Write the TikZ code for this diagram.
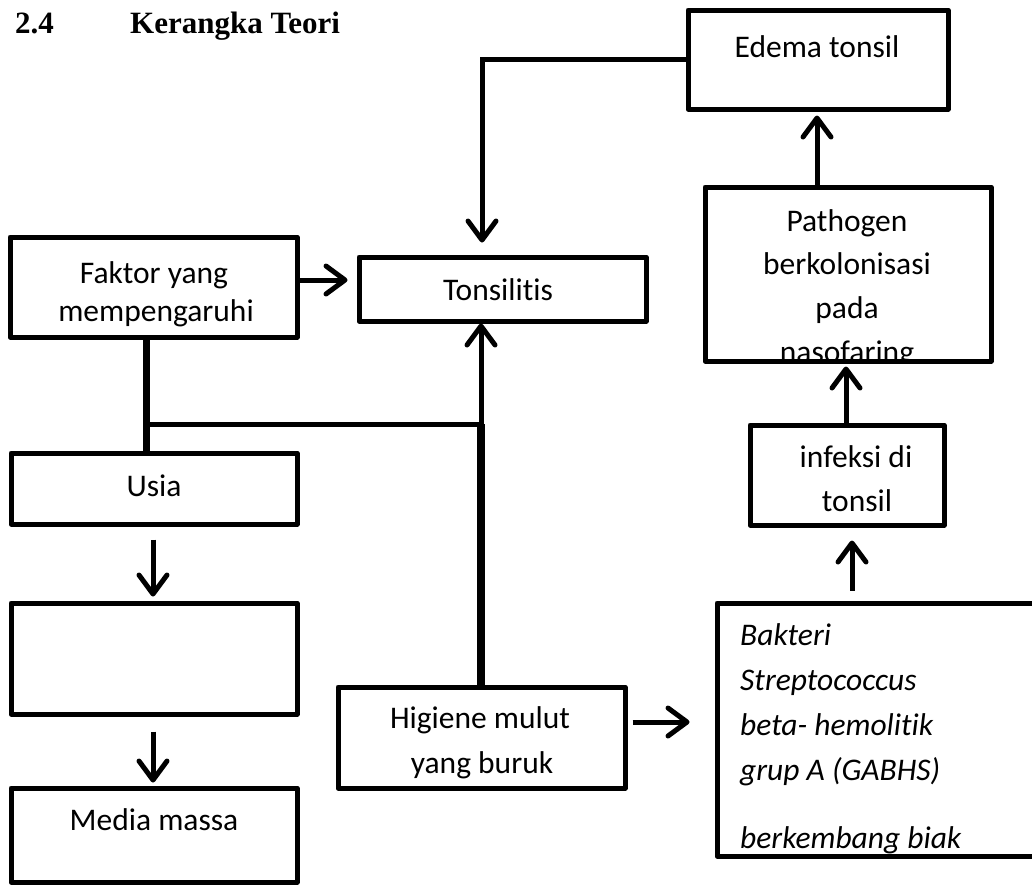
\documentclass[tikz,border=0pt]{standalone}
\usepackage{fontspec}
\setmainfont{Carlito}[Ligatures={NoCommon}]
\newfontfamily\titlefont{Liberation Serif}
\usetikzlibrary{arrows.meta,calc}
\begin{document}
\begin{tikzpicture}[x=1pt,y=-1pt,
  box/.style={draw, line width=5pt, rectangle, inner sep=0pt, line join=round},
  arr/.style={line width=5pt, -{Straight Barb[length=19pt,width=28pt,line join=round,line cap=round]}},
  link/.style={line width=6pt},
  lbl/.style={inner sep=0pt, anchor=base, font=\fontsize{31.5}{44}\selectfont},
  lblw/.style={inner sep=0pt, anchor=base west, font=\fontsize{31.5}{44}\selectfont\itshape},
  ttl/.style={inner sep=0pt, anchor=base west, font=\fontsize{31}{37}\selectfont\titlefont\bfseries}]
\useasboundingbox (0,0) rectangle (1032,884);
\clip (0,0) rectangle (1032,884);

% title
\node[ttl] (tnum) at (15,33) {2.4};
\node[ttl] (ttitle) at (130,33) {Kerangka Teori};

% boxes
\node[box, minimum width=260pt, minimum height=99pt] (edema) at (818,59.5) {};
\node[box, minimum width=286pt, minimum height=174pt] (pathogen) at (848,274) {};
\node[box, minimum width=194pt, minimum height=100pt] (infeksi) at (847,475) {};
\node[box, minimum width=330pt, minimum height=253pt] (bakteri) at (882,729.5) {};
\node[box, minimum width=287pt, minimum height=101pt] (higiene) at (481.5,737.5) {};
\node[box, minimum width=287pt, minimum height=64pt] (tonsilitis) at (502.5,289) {};
\node[box, minimum width=287pt, minimum height=100pt] (faktor) at (153.5,287) {};
\node[box, minimum width=286pt, minimum height=71pt] (usia) at (154,488.5) {};
\node[box, minimum width=286pt, minimum height=111pt] (blank) at (154,658.5) {};
\node[box, minimum width=286pt, minimum height=94pt] (media) at (154,835) {};

% texts
\node[lbl] (tedema) at (817,57) {Edema tonsil};
\begin{scope}
  \clip (pathogen.south west) rectangle (pathogen.north east);
  \node[lbl] (tp1) at (847,231) {Pathogen};
  \node[lbl] (tp2) at (847,274) {berkolonisasi};
  \node[lbl] (tp3) at (847,318) {pada};
  \node[lbl] (tp4) at (847,362) {nasofaring};
\end{scope}
\node[lbl] (ti1) at (856,467) {infeksi di};
\node[lbl] (ti2) at (857,511) {tonsil};
\begin{scope}
  \clip (bakteri.south west) rectangle (bakteri.north east);
  \node[lblw] (tb1) at (740,645) {Bakteri};
  \node[lblw] (tb2) at (740,690) {Streptococcus};
  \node[lblw] (tb3) at (740,735) {beta- hemolitik};
  \node[lblw] (tb4) at (740,780) {grup A (GABHS)};
  \node[lblw] (tb5) at (740,848) {berkembang biak};
\end{scope}
\node[lbl] (th1) at (480,728) {Higiene mulut};
\node[lbl] (th2) at (482,773) {yang buruk};
\node[lbl] (tf1) at (154,283) {Faktor yang};
\node[lbl] (tf2) at (156,321) {mempengaruhi};
\node[lbl] (tt) at (498,300) {Tonsilitis};
\node[lbl] (tu) at (154,496) {Usia};
\node[lbl] (tm) at (154,830) {Media massa};

% helper coordinates
\coordinate (xdrop) at (482,0);
\coordinate (xmid) at (481,0);
\coordinate (xfak) at (146,0);
\coordinate (yjoin) at (0,424);
\coordinate (yfa) at (0,280);
\coordinate (yhb) at (0,722);
\coordinate (xleft) at (153,0);
\coordinate (xinf) at (852,0);
\coordinate (xpat) at (846,0);
\coordinate (xede) at (817,0);

% connectors
\draw[arr, shorten >=12pt] (edema.west) -| (xdrop |- tonsilitis.north);
\draw[arr, shorten >=9pt] (faktor.east |- yfa) -- (tonsilitis.west |- yfa);
\draw[link, line width=8pt] (xmid |- higiene.north) -- (xmid |- yjoin);
\draw[arr] (xmid |- higiene.north) -- (xmid |- tonsilitis.south);
\draw[link, line width=7pt] (xfak |- faktor.south) -- (xfak |- usia.north);
\draw[link, line width=5pt] (xfak |- yjoin) -- (xmid |- yjoin);
\draw[arr, shorten <=13pt, shorten >=4pt] (xleft |- usia.south) -- (xleft |- blank.north);
\draw[arr, shorten <=15pt, shorten >=3pt] (xleft |- blank.south) -- (xleft |- media.north);
\draw[arr, shorten <=5pt, shorten >=25pt] (higiene.east |- yhb) -- (bakteri.west |- yhb);
\draw[arr, shorten <=10pt, shorten >=13pt] (xinf |- bakteri.north) -- (xinf |- infeksi.south);
\draw[arr, shorten >=3pt] (xpat |- infeksi.north) -- (xpat |- pathogen.south);
\draw[arr, shorten >=4pt] (xede |- pathogen.north) -- (xede |- edema.south);
\end{tikzpicture}
\end{document}
